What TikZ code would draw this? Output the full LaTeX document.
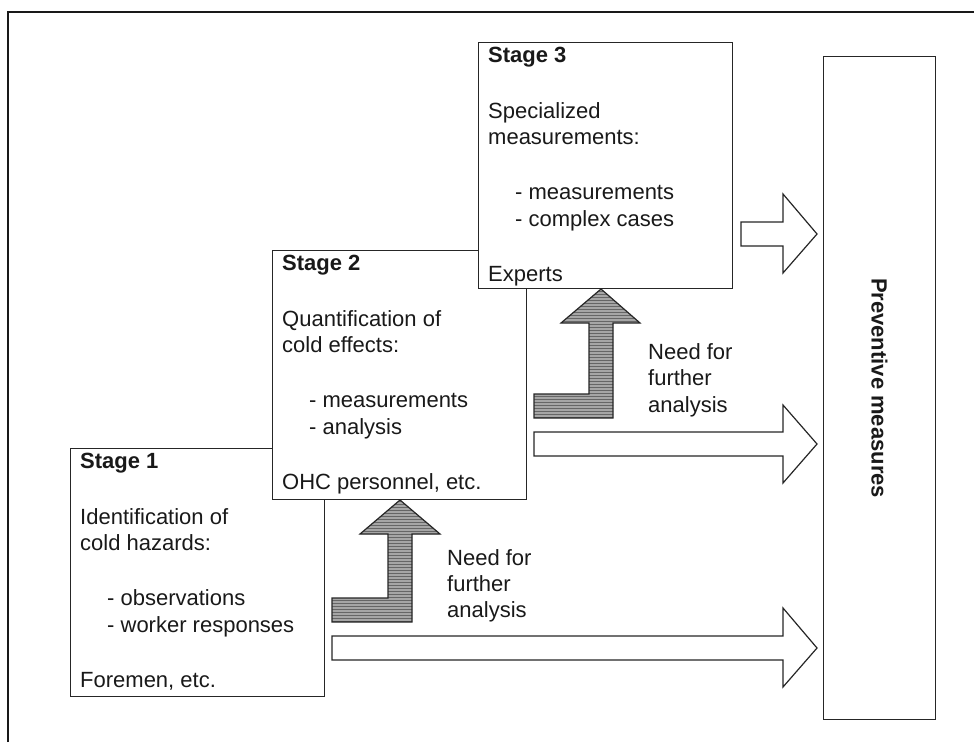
\documentclass[tikz,border=0pt]{standalone}
\usepackage{fontspec}
\setmainfont{Liberation Sans}
\usetikzlibrary{patterns,calc}
\begin{document}
\begin{tikzpicture}[x=1pt,y=-1pt,
  stagebox/.style={draw=black!85,line width=1.2pt,fill=white,rectangle,inner sep=0pt,anchor=north west},
  txt/.style={anchor=base west,inner sep=0pt,font=\fontsize{22}{26}\selectfont,text=black!90},
  ttl/.style={anchor=base west,inner sep=0pt,font=\fontsize{22}{26}\selectfont\bfseries,text=black!90},
  whitearrow/.style={draw=black!85,line width=1.2pt,fill=white,line join=miter},
  grayarrow/.style={draw=black!85,line width=1.2pt,preaction={fill=gray!70},pattern=horizontal lines,pattern color=black!60,line join=miter}]
\useasboundingbox (0,0) rectangle (974,742);
% outer frame (only top and left edges visible)
\draw[line width=2pt,black!90] (8,742) -- (8,12) -- (974,12);

% Stage 1
\node[stagebox,minimum width=254pt,minimum height=248pt] (s1) at (70,448) {};
\node[ttl] (s1a) at ($(s1.north west)+(10,20)$) {Stage 1};
\node[txt] (s1b) at ($(s1.north west)+(10,76)$) {Identification of};
\node[txt] (s1c) at ($(s1.north west)+(10,102.5)$) {cold hazards:};
\node[txt] (s1d) at ($(s1.north west)+(37,157)$) {- observations};
\node[txt] (s1e) at ($(s1.north west)+(37,184.5)$) {- worker responses};
\node[txt] (s1f) at ($(s1.north west)+(10,239)$) {Foremen, etc.};

% Stage 2
\node[stagebox,minimum width=254pt,minimum height=249pt] (s2) at (272,250) {};
\node[ttl] (s2a) at ($(s2.north west)+(10,20)$) {Stage 2};
\node[txt] (s2b) at ($(s2.north west)+(10,76)$) {Quantification of};
\node[txt] (s2c) at ($(s2.north west)+(10,102.5)$) {cold effects:};
\node[txt] (s2d) at ($(s2.north west)+(37,157)$) {- measurements};
\node[txt] (s2e) at ($(s2.north west)+(37,184.5)$) {- analysis};
\node[txt] (s2f) at ($(s2.north west)+(10,239)$) {OHC personnel, etc.};

% Stage 3
\node[stagebox,minimum width=254pt,minimum height=246pt] (s3) at (478,42) {};
\node[ttl] (s3a) at ($(s3.north west)+(10,20)$) {Stage 3};
\node[txt] (s3b) at ($(s3.north west)+(10,76)$) {Specialized};
\node[txt] (s3c) at ($(s3.north west)+(10,102.5)$) {measurements:};
\node[txt] (s3d) at ($(s3.north west)+(37,157)$) {- measurements};
\node[txt] (s3e) at ($(s3.north west)+(37,184.5)$) {- complex cases};
\node[txt] (s3f) at ($(s3.north west)+(10,239)$) {Experts};

% Preventive measures
\node[stagebox,minimum width=112pt,minimum height=663pt] (pm) at (823,56) {};
\node[rotate=-90,inner sep=0pt,font=\fontsize{22}{26}\selectfont\bfseries,text=black!90] (pmt) at (pm.center) {Preventive measures};

% white block arrows to preventive measures
\draw[whitearrow] (741,222) -- (783,222) -- (783,194) -- (817,234) -- (783,273) -- (783,246) -- (741,246) -- cycle;
\draw[whitearrow] (534,432) -- (783,432) -- (783,405) -- (817,444) -- (783,483) -- (783,456) -- (534,456) -- cycle;
\draw[whitearrow] (332,636) -- (783,636) -- (783,608) -- (817,648) -- (783,687) -- (783,660) -- (332,660) -- cycle;

% gray L-shaped arrows
\draw[grayarrow] (534,418) -- (534,394) -- (589,394) -- (589,323) -- (561,323) -- (601,289) -- (640,323) -- (613,323) -- (613,418) -- cycle;
\draw[grayarrow] (332,622) -- (332,598) -- (388,598) -- (388,534) -- (360,534) -- (400,500) -- (440,534) -- (412,534) -- (412,622) -- cycle;

% labels
\node[txt] (n2a) at (648,359) {Need for};
\node[txt] (n2b) at (648,385.5) {further};
\node[txt] (n2c) at (648,412) {analysis};
\node[txt] (n1a) at (447,565) {Need for};
\node[txt] (n1b) at (447,591) {further};
\node[txt] (n1c) at (447,617) {analysis};
\end{tikzpicture}
\end{document}
